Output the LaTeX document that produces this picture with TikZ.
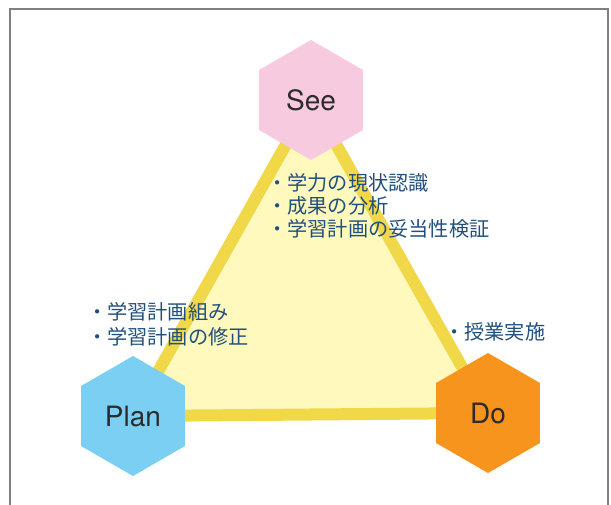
\documentclass[tikz,border=0pt]{standalone}
\usepackage{fontspec}
\setmainfont{TeX Gyre Heros}
\newfontfamily\jpfont{Noto Sans CJK JP}
\usetikzlibrary{shapes.geometric,backgrounds}

\definecolor{seepink}{HTML}{F8CADF}
\definecolor{planblue}{HTML}{7ACFF3}
\definecolor{doorange}{HTML}{F7941D}
\definecolor{triedge}{HTML}{F0D848}
\definecolor{trifill}{HTML}{FFF9BD}
\definecolor{notetext}{HTML}{22507C}
\definecolor{labeltext}{HTML}{2B2B2B}

\tikzset{
  hexbox/.style={regular polygon, regular polygon sides=6, shape border rotate=30,
    minimum size=120pt, inner sep=0pt, draw=none, text=labeltext,
    font=\fontsize{28}{28}\selectfont},
  notes/.style={anchor=west, inner sep=0pt, align=left, text=notetext}
}

\begin{document}
\begin{tikzpicture}[x=1pt, y=-1pt]

  \useasboundingbox (0,0) rectangle (611,504);
  \draw[gray, line width=1.2pt] (10,9) rectangle (608,520);	% outer frame

  \node[hexbox, fill=seepink]  (see)  at (311,100) {See};
  \node[hexbox, fill=planblue] (plan) at (133,416) {Plan};
  \node[hexbox, fill=doorange] (do)   at (488,413) {Do};

  \begin{scope}[on background layer]
    \draw[triedge, fill=trifill, line width=12pt, line join=round]
      (see.center) -- (plan.center) -- (do.center) -- cycle;
  \end{scope}

  \node[notes, font=\jpfont\fontsize{20.2}{23}\selectfont] (seenote) at (267,206)
    {・学力の現状認識\\・成果の分析\\・学習計画の妥当性検証};
  \node[notes, font=\jpfont\fontsize{20.2}{25}\selectfont] (plannote) at (87,324)
    {・学習計画組み\\・学習計画の修正};
  \node[notes, font=\jpfont\fontsize{20.2}{25}\selectfont] (donote) at (444,332)
    {・授業実施};

\end{tikzpicture}
\end{document}
